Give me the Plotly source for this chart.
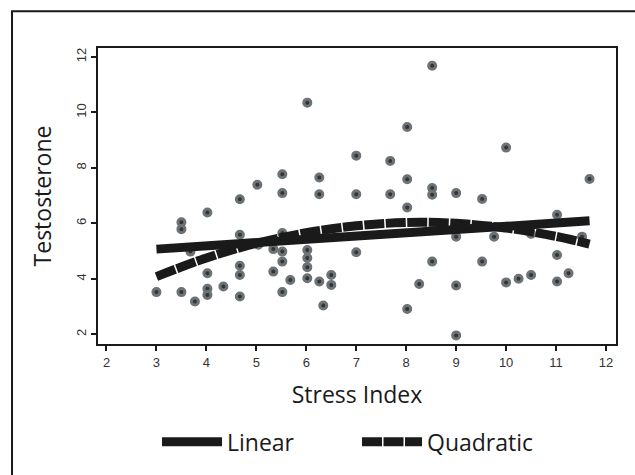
import plotly.graph_objects as go

# Scatter data (Stress Index, Testosterone)
stress = [5.02, 4.67, 8.52, 6.02, 8.02, 7.0, 7.68, 5.52, 6.26, 8.02, 8.52, 5.52, 6.26, 7.0, 7.68,
          8.52, 10.0, 11.67, 9.0, 9.52, 4.02, 3.5, 3.5, 4.67, 3.68, 5.04, 5.34, 4.67, 4.02, 4.67,
          5.34, 4.34, 3.0, 3.5, 4.02, 4.02, 3.77, 4.67, 8.02, 5.52, 5.52, 6.02, 6.02, 5.52, 6.02,
          7.0, 8.52, 5.68, 6.02, 6.26, 6.5, 6.5, 5.52, 8.26, 6.34, 8.02, 11.02, 9.0, 9.76, 10.5,
          11.52, 9.52, 11.02, 11.25, 9.0, 10.0, 10.25, 10.5, 11.02, 9.0]
testosterone = [7.39, 6.87, 11.68, 10.35, 9.47, 8.44, 8.25, 7.77, 7.65, 7.59, 7.27, 7.09, 7.05, 7.05, 7.05,
                7.03, 8.73, 7.6, 7.09, 6.88, 6.39, 6.04, 5.79, 5.59, 4.98, 5.23, 5.07, 4.47, 4.2, 4.14,
                4.26, 3.72, 3.52, 3.52, 3.64, 3.42, 3.18, 3.36, 6.57, 5.65, 4.98, 5.04, 4.75, 4.62, 4.42,
                4.96, 4.62, 3.96, 4.02, 3.9, 4.14, 3.78, 3.52, 3.81, 3.04, 2.91, 6.31, 5.52, 5.52, 5.62,
                5.52, 4.62, 4.86, 4.2, 3.76, 3.87, 4.0, 4.14, 3.9, 1.96]

# Fitted lines
linear_x = [3.0, 11.67]
linear_y = [5.07, 6.09]
quad_x = [3.0, 4.0, 5.0, 6.0, 7.0, 8.0, 9.0, 10.0, 11.0, 11.67]
quad_y = [4.08, 4.75, 5.28, 5.66, 5.91, 6.03, 6.0, 5.83, 5.53, 5.25]

x_ticks = [2, 3, 4, 5, 6, 7, 8, 9, 10, 11, 12]
y_ticks = [2, 4, 6, 8, 10, 12]

title_font = dict(family="Open Sans, Lato, sans-serif", size=23, color="#1a1a1a")

fig = go.Figure()
fig.add_trace(go.Scatter(
    x=stress, y=testosterone, mode="markers", showlegend=False,
    marker=dict(size=7, color="#2f3538", line=dict(width=3, color="#6d7275")),
))
fig.add_trace(go.Scatter(
    x=linear_x, y=linear_y, mode="lines", name="Linear",
    line=dict(color="#1a1a1a", width=9),
))
fig.add_trace(go.Scatter(
    x=quad_x, y=quad_y, mode="lines", name="Quadratic",
    line=dict(color="#1a1a1a", width=9, shape="spline", dash="20px,1.5px"),
))

axis_common = dict(
    showgrid=False, zeroline=False, showline=True, linecolor="#1a1a1a", linewidth=2,
    mirror=True, ticks="outside", ticklen=5, tickwidth=2, tickcolor="#1a1a1a",
    tickfont=dict(family="Liberation Sans, Arial, sans-serif", size=13, color="#333333"),
)

fig.update_layout(
    width=635, height=475,
    margin=dict(l=98, r=19, t=48, b=131, autoexpand=False),
    paper_bgcolor="white", plot_bgcolor="white",
    xaxis=dict(range=[1.83, 12.2], tickvals=x_ticks,
               title=dict(text="Stress Index", font=title_font, standoff=18), **axis_common),
    yaxis=dict(range=[1.65, 12.32], tickvals=y_ticks, tickangle=-90,
               title=dict(text="Testosterone", font=title_font, standoff=16), **axis_common),
    legend=dict(orientation="h", x=0.5, xanchor="center", y=-0.33, yanchor="middle",
                font=dict(family="Open Sans, Lato, sans-serif", size=23, color="#1a1a1a"),
                itemwidth=60, entrywidth=125, bgcolor="rgba(0,0,0,0)"),
    shapes=[dict(type="rect", xref="paper", yref="paper", x0=-0.166, x1=1.2, y0=-0.6, y1=1.124,
                 line=dict(color="#1a1a1a", width=2), fillcolor="rgba(0,0,0,0)", layer="below")],
)

fig.write_html("out.html", config={"displayModeBar": False},
               post_script="document.body.style.margin='0';")
